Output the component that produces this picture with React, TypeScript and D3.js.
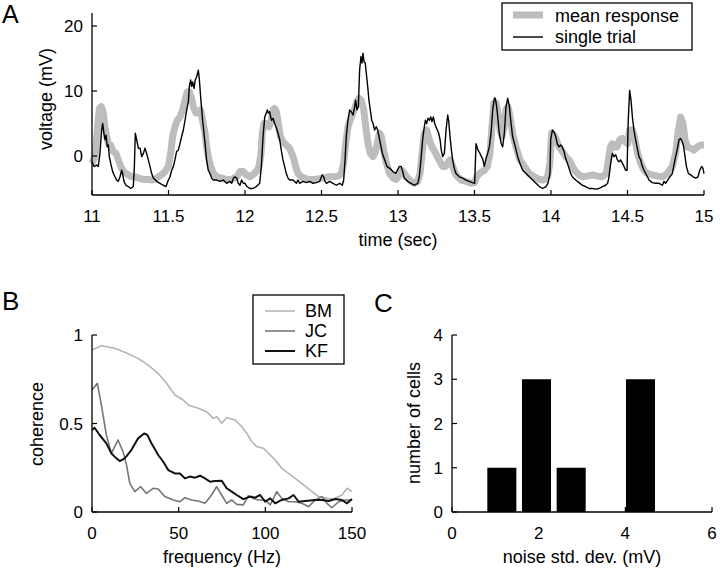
import React from "react";
import * as d3 from "d3";

// ---------- Panel A data: time (s), voltage (mV) ----------
const singleTrial: [number, number][] = [
  [11.0, -0.9], [11.013, -1.6], [11.031, -1.4], [11.041, -1.6], [11.052, 0.4], [11.063, 4.0], [11.07, 5.0], [11.078, 3.5],
  [11.085, 2.5], [11.092, 3.2], [11.1, 1.4], [11.107, 1.7], [11.113, -0.1], [11.122, -1.1], [11.135, -2.4], [11.15, -3.2],
  [11.161, -3.7], [11.172, -3.9], [11.183, -3.2], [11.194, -2.2], [11.2, -2.7], [11.209, -3.9], [11.222, -4.5], [11.237, -4.7],
  [11.253, -5.0], [11.27, -4.7], [11.277, -1.6], [11.283, 3.5], [11.292, 2.5], [11.303, 1.2], [11.314, 1.2], [11.325, -0.1],
  [11.336, 0.4], [11.346, 1.2], [11.357, 0.4], [11.368, -0.6], [11.379, -1.6], [11.39, -2.7], [11.401, -3.4], [11.423, -3.9],
  [11.444, -4.2], [11.466, -4.5], [11.484, -4.7], [11.499, -3.7], [11.51, -3.2], [11.521, -2.2], [11.532, -1.6], [11.542, -0.6],
  [11.553, 0.7], [11.564, 0.9], [11.575, 1.9], [11.586, 3.0], [11.597, 4.0], [11.608, 5.5], [11.619, 7.1], [11.63, 8.4],
  [11.636, 10.7], [11.645, 11.7], [11.651, 10.7], [11.658, 11.4], [11.667, 10.4], [11.675, 11.7], [11.684, 12.2], [11.695, 13.2],
  [11.702, 11.7], [11.71, 9.1], [11.723, 5.5], [11.739, 1.9], [11.749, -0.6], [11.76, -2.2], [11.771, -2.7], [11.782, -3.4],
  [11.793, -3.7], [11.815, -3.7], [11.837, -3.9], [11.858, -3.7], [11.88, -4.2], [11.902, -3.9], [11.913, -4.2], [11.924, -3.4],
  [11.935, -3.2], [11.946, -3.4], [11.956, -4.2], [11.967, -4.5], [11.978, -3.7], [11.989, -4.2],
  [12.0, -4.2], [12.013, -4.7], [12.031, -5.0], [12.052, -5.0], [12.074, -4.7], [12.096, -4.2], [12.107, -1.6], [12.118, 3.0],
  [12.129, 6.0], [12.139, 6.6], [12.146, 7.1], [12.153, 6.6], [12.161, 6.8], [12.168, 6.0], [12.174, 5.5], [12.183, 5.8],
  [12.194, 5.0], [12.205, 4.3], [12.216, 3.5], [12.227, 2.5], [12.237, 0.9], [12.248, -0.6], [12.259, -1.6], [12.27, -2.7],
  [12.281, -3.4], [12.292, -3.7], [12.314, -3.7], [12.336, -4.2], [12.346, -3.7], [12.357, -4.2], [12.379, -3.9], [12.401, -4.1],
  [12.423, -3.9], [12.444, -4.2], [12.466, -4.1], [12.488, -3.9], [12.505, -2.9], [12.514, -3.2], [12.523, -3.9], [12.532, -4.2],
  [12.553, -3.9], [12.575, -4.2], [12.597, -4.5], [12.619, -4.2], [12.636, -4.5], [12.645, -3.7], [12.654, -0.6], [12.662, 3.0],
  [12.673, 5.5], [12.684, 7.1], [12.695, 6.8], [12.706, 6.3], [12.717, 7.6], [12.723, 8.6], [12.732, 7.1], [12.741, 7.6],
  [12.749, 13.2], [12.758, 15.3], [12.765, 14.3], [12.771, 15.8], [12.778, 14.5], [12.786, 14.3], [12.793, 12.7], [12.802, 10.7],
  [12.81, 8.6], [12.819, 7.1], [12.828, 5.5], [12.837, 5.0], [12.847, 4.0], [12.858, 4.5], [12.867, 4.0], [12.876, 3.0],
  [12.885, 1.9], [12.898, 0.4], [12.913, -0.6], [12.928, -1.6], [12.946, -1.9], [12.967, -2.4], [12.985, -2.7],
  [13.009, -1.6], [13.02, -1.6], [13.031, -2.4], [13.041, -3.4], [13.063, -3.9], [13.085, -4.2], [13.107, -4.5], [13.129, -4.2],
  [13.139, -3.2], [13.15, -0.6], [13.161, 2.5], [13.172, 4.5], [13.179, 5.5], [13.187, 5.0], [13.196, 5.8], [13.205, 5.5],
  [13.214, 6.0], [13.222, 5.3], [13.231, 6.0], [13.24, 5.0], [13.248, 4.5], [13.257, 4.0], [13.266, 3.5], [13.275, 2.5],
  [13.283, 0.9], [13.292, -0.1], [13.303, 0.4], [13.314, 4.0], [13.325, 6.3], [13.331, 5.5], [13.34, 3.0], [13.349, 0.9],
  [13.357, -0.6], [13.368, -1.9], [13.379, -2.7], [13.401, -3.2], [13.423, -3.4], [13.444, -3.7], [13.466, -3.9], [13.488, -4.1],
  [13.501, -4.2], [13.51, 1.9], [13.519, 1.2], [13.527, 0.7], [13.536, 0.4], [13.545, -0.1], [13.553, -0.4], [13.564, -1.6],
  [13.575, -0.4], [13.586, 0.4], [13.597, 1.4], [13.608, 3.5], [13.619, 7.1], [13.63, 8.9], [13.636, 8.9], [13.645, 7.6],
  [13.654, 5.5], [13.662, 3.5], [13.675, 1.9], [13.684, 1.4], [13.695, 3.5], [13.706, 7.6], [13.717, 8.9], [13.728, 7.6],
  [13.739, 5.0], [13.749, 3.0], [13.767, 1.4], [13.782, -0.1], [13.797, -1.1], [13.815, -2.2], [13.837, -2.7], [13.858, -3.2],
  [13.88, -3.7], [13.902, -4.2], [13.924, -4.7], [13.946, -5.0], [13.967, -4.7], [13.98, -4.2], [13.993, -2.7],
  [13.998, 2.5], [14.009, 4.0], [14.02, 3.7], [14.031, 3.0], [14.041, 1.9], [14.052, 1.4], [14.063, 1.7], [14.074, 1.4],
  [14.085, 0.7], [14.096, -0.4], [14.107, -1.1], [14.118, -1.9], [14.129, -2.7], [14.139, -3.2], [14.161, -3.7], [14.183, -4.1],
  [14.205, -4.5], [14.227, -4.7], [14.248, -5.0], [14.27, -5.0], [14.292, -5.1], [14.314, -5.0], [14.336, -4.7], [14.357, -4.5],
  [14.37, -4.2], [14.379, -3.2], [14.39, -1.1], [14.401, 0.4], [14.412, -0.1], [14.423, 0.2], [14.434, -0.6], [14.444, -0.9],
  [14.455, -0.6], [14.466, -1.1], [14.477, -1.6], [14.488, -2.2], [14.497, -2.2], [14.505, 5.5], [14.514, 10.1], [14.523, 8.6],
  [14.532, 6.0], [14.542, 4.0], [14.553, 2.5], [14.564, 1.2], [14.575, -0.1], [14.586, -0.6], [14.597, -1.6], [14.608, -2.2],
  [14.619, -2.7], [14.63, -3.2], [14.641, -3.7], [14.662, -4.1], [14.684, -4.2], [14.706, -4.2], [14.728, -4.5], [14.739, -3.9],
  [14.749, -4.2], [14.771, -3.4], [14.793, -2.7], [14.81, -0.6], [14.824, 0.9], [14.837, 2.5], [14.847, 2.7], [14.858, 2.2],
  [14.867, 1.4], [14.876, -0.1], [14.885, -1.6], [14.898, -2.7], [14.913, -2.9], [14.928, -3.2], [14.946, -3.4], [14.961, -3.2],
  [14.972, -2.2], [14.985, -1.6], [14.993, -1.9], [15.0, -2.7],
];

const meanResponse: [number, number][] = [
  [11.0, -1.1], [11.02, -0.1], [11.035, 4.0], [11.048, 7.3], [11.061, 7.6], [11.074, 6.6], [11.085, 4.5], [11.096, 3.0],
  [11.107, 1.9], [11.122, 1.7], [11.139, 0.7], [11.157, 0.4], [11.172, -0.6], [11.187, -1.6], [11.205, -2.4], [11.222, -2.7],
  [11.237, -2.9], [11.259, -3.2], [11.281, -3.2], [11.303, -3.4], [11.336, -3.6], [11.368, -3.6], [11.39, -3.7], [11.412, -3.6],
  [11.434, -3.2], [11.455, -2.9], [11.477, -2.4], [11.499, -1.6], [11.514, 0.4], [11.527, 3.0], [11.542, 4.5], [11.558, 5.5],
  [11.575, 6.0], [11.593, 7.1], [11.608, 8.6], [11.623, 9.9], [11.636, 9.9], [11.651, 8.9], [11.662, 7.6], [11.68, 6.6],
  [11.695, 6.6], [11.71, 7.1], [11.723, 5.5], [11.739, 3.5], [11.749, 1.4], [11.76, -0.1], [11.776, -1.6], [11.793, -2.7],
  [11.815, -3.2], [11.847, -3.4], [11.88, -3.6], [11.913, -3.6], [11.946, -3.2], [11.967, -2.4], [11.989, -2.4],
  [12.009, -2.9], [12.031, -3.2], [12.052, -2.9], [12.074, -2.4], [12.092, -1.6], [12.105, 0.4], [12.113, 3.5], [12.124, 5.0],
  [12.139, 5.0], [12.157, 4.5], [12.172, 5.5], [12.183, 7.1], [12.194, 7.3], [12.205, 6.8], [12.218, 5.0], [12.231, 3.0],
  [12.248, 2.2], [12.27, 1.7], [12.292, 1.2], [12.314, -0.1], [12.331, -1.6], [12.346, -2.7], [12.368, -3.2], [12.39, -3.4],
  [12.412, -3.6], [12.455, -3.6], [12.51, -3.4], [12.542, -3.2], [12.575, -3.2], [12.608, -3.1], [12.63, -2.7], [12.645, -1.1],
  [12.658, 1.9], [12.673, 4.5], [12.695, 6.0], [12.717, 7.3], [12.732, 8.4], [12.745, 8.9], [12.76, 8.6], [12.776, 7.1],
  [12.789, 4.5], [12.804, 1.9], [12.819, 0.4], [12.837, -0.1], [12.854, 0.7], [12.869, 2.5], [12.88, 3.5], [12.891, 3.0],
  [12.906, 0.9], [12.924, -1.1], [12.946, -2.7], [12.967, -3.4], [12.989, -3.6],
  [13.009, -2.9], [13.026, -2.2], [13.041, -2.7], [13.063, -3.4], [13.085, -3.9], [13.107, -4.2], [13.129, -3.9], [13.144, -2.7],
  [13.157, 0.4], [13.172, 3.5], [13.187, 4.0], [13.205, 2.5], [13.222, 1.4], [13.24, 0.7], [13.257, -0.1], [13.275, -0.9],
  [13.292, -1.6], [13.309, -1.6], [13.325, -1.1], [13.34, -0.6], [13.357, -1.6], [13.379, -2.9], [13.412, -3.7], [13.444, -3.9],
  [13.477, -4.2], [13.501, -4.1], [13.514, -3.2], [13.532, -2.7], [13.549, -2.4], [13.566, -2.2], [13.584, -1.6], [13.601, 0.4],
  [13.614, 4.5], [13.627, 8.1], [13.641, 8.1], [13.654, 6.6], [13.667, 4.0], [13.68, 3.0], [13.693, 4.5], [13.706, 7.1],
  [13.719, 7.6], [13.732, 6.0], [13.749, 3.5], [13.771, 1.4], [13.797, -0.6], [13.826, -1.6], [13.858, -2.7], [13.891, -3.2],
  [13.924, -3.6], [13.946, -3.7], [13.963, -3.6], [13.978, -3.2], [13.993, -1.1],
  [14.004, 3.5], [14.02, 3.2], [14.035, 2.5], [14.052, 1.4], [14.074, 0.7], [14.096, -0.1], [14.118, -0.6], [14.139, -1.6],
  [14.161, -2.4], [14.183, -2.9], [14.205, -3.2], [14.237, -3.1], [14.27, -2.9], [14.303, -3.1], [14.336, -3.2], [14.362, -2.7],
  [14.375, -0.6], [14.388, 1.4], [14.401, 1.9], [14.414, 1.4], [14.431, 1.4], [14.449, 2.5], [14.466, 2.7], [14.484, 2.2],
  [14.501, 1.9], [14.514, 4.0], [14.532, 4.0], [14.549, 2.5], [14.566, 0.4], [14.586, -1.1], [14.608, -2.2], [14.63, -2.7],
  [14.662, -2.9], [14.695, -3.1], [14.728, -3.2], [14.76, -2.7], [14.793, -1.6], [14.815, 0.4], [14.832, 4.0], [14.847, 6.0],
  [14.863, 5.0], [14.876, 2.5], [14.891, 1.4], [14.913, 1.2], [14.935, 0.9], [14.956, 1.4], [14.978, 1.7], [15.0, 1.7],
];

const timeTicks = [11, 11.5, 12, 12.5, 13, 13.5, 14, 14.5, 15];
const voltageTicks = [0, 10, 20];

// ---------- Panel B data: frequency (Hz), coherence ----------
const cohBM: [number, number][] = [
  [0, 0.915], [5.4, 0.94], [8.3, 0.934], [13.1, 0.925], [18.9, 0.902], [26.6, 0.868], [32.4, 0.83], [38.2, 0.783],
  [43, 0.727], [47.8, 0.661], [52.6, 0.633], [55.5, 0.605], [61.3, 0.586], [66.1, 0.567], [70, 0.529], [71.9, 0.539],
  [74.8, 0.501], [77.7, 0.533], [82.5, 0.52], [86.4, 0.482], [89.3, 0.444], [92.2, 0.397], [95.1, 0.369], [98.9, 0.36],
  [102.8, 0.322], [105.7, 0.294], [109.5, 0.247], [113.4, 0.218], [117.2, 0.19], [122, 0.153], [126.9, 0.115], [130.7, 0.087],
  [135.5, 0.077], [139.4, 0.073], [144.2, 0.096], [147.1, 0.134], [150, 0.115],
];
const cohJC: [number, number][] = [
  [0, 0.689], [3.1, 0.727], [5.4, 0.605], [8.3, 0.435], [11.2, 0.331], [15, 0.407], [17.9, 0.341], [19.9, 0.266],
  [21.8, 0.162], [24.7, 0.115], [28.1, 0.143], [31.4, 0.105], [35.3, 0.134], [38.2, 0.13], [42, 0.087], [46.8, 0.068],
  [50.7, 0.058], [53.6, 0.081], [57.5, 0.068], [61.3, 0.062], [65.2, 0.049], [69, 0.096], [71.9, 0.143], [74.8, 0.096],
  [77.7, 0.049], [80.6, 0.068], [83.5, 0.043], [87.3, 0.04], [90.2, 0.092], [93.1, 0.077], [96, 0.068], [99.9, 0.068],
  [102.8, 0.04], [106.6, 0.115], [109.5, 0.077], [113.4, 0.058], [117.2, 0.058], [121.1, 0.049], [124.9, 0.03], [128.8, 0.068],
  [132.6, 0.087], [135.5, 0.049], [138.4, 0.024], [142.3, 0.058], [146.1, 0.068], [150, 0.068],
];
const cohKF: [number, number][] = [
  [0, 0.463], [1.5, 0.476], [4.4, 0.435], [8.3, 0.388], [11.2, 0.331], [14.1, 0.303], [16, 0.288], [18.9, 0.303],
  [22.7, 0.35], [26.6, 0.416], [30.1, 0.444], [32, 0.435], [34.3, 0.388], [38.2, 0.322], [41.1, 0.284], [44, 0.237],
  [47.8, 0.218], [50.7, 0.218], [53.6, 0.19], [56.5, 0.2], [59.4, 0.194], [62.3, 0.205], [65.2, 0.19], [68.1, 0.171],
  [71, 0.175], [74.8, 0.177], [77.7, 0.134], [80.6, 0.115], [83.5, 0.096], [87.3, 0.073], [91.2, 0.087], [94.1, 0.081],
  [97, 0.096], [99.9, 0.058], [102.8, 0.077], [105.7, 0.049], [109.5, 0.068], [113.4, 0.077], [116.3, 0.096], [119.2, 0.058],
  [123, 0.062], [128.8, 0.068], [132.6, 0.068], [136.5, 0.062], [140.4, 0.073], [144.2, 0.068], [147.1, 0.049], [150, 0.073],
];
const cellNames = ["BM", "JC", "KF"];
const freqTicks = [0, 50, 100, 150];
const cohTicks = [0, 0.5, 1];

// ---------- Panel C data: noise std. dev. histogram ----------
const noiseBinCenters = [1.15, 1.95, 2.75, 3.55, 4.35];
const cellCounts = [1, 3, 1, 0, 3];
const noiseTicks = [0, 2, 4, 6];
const countTicks = [0, 1, 2, 3, 4];

const FONT = "'Liberation Sans', Arial, Helvetica, sans-serif";
const TICK_FS = 17;
const LABEL_FS = 18;
const TL = 5;

export default function App() {
  // Panel A scales
  const xA = d3.scaleLinear().domain([11, 15]).range([92, 704]);
  const yA = d3.scaleLinear().domain([-6, 22]).range([195, 13]);
  const lineA = d3.line<[number, number]>().x((d) => xA(d[0])).y((d) => yA(d[1]));

  // Panel B scales
  const xB = d3.scaleLinear().domain([0, 150]).range([92, 352]);
  const yB = d3.scaleLinear().domain([0, 1]).range([512, 335]);
  const lineB = d3.line<[number, number]>().x((d) => xB(d[0])).y((d) => yB(d[1]));

  // Panel C scales
  const xC = d3.scaleLinear().domain([0, 6]).range([452, 712]);
  const yC = d3.scaleLinear().domain([0, 4]).range([512, 335]);
  const barW = 0.67;

  const cohSeries = [
    { name: cellNames[0], data: cohBM, color: "#b4b4b4", w: 1.6 },
    { name: cellNames[1], data: cohJC, color: "#767676", w: 1.6 },
    { name: cellNames[2], data: cohKF, color: "#111111", w: 2 },
  ];

  const xAxis = (scale: d3.ScaleLinear<number, number>, y0: number, ticks: number[]) => (
    <g>
      <line x1={scale.range()[0]} x2={scale.range()[1]} y1={y0} y2={y0} stroke="#000" strokeWidth={1.3} />
      {ticks.map((t) => (
        <g key={t}>
          <line x1={scale(t)} x2={scale(t)} y1={y0} y2={y0 - TL} stroke="#000" strokeWidth={1.2} />
          <text x={scale(t)} y={y0 + 27} textAnchor="middle" fontSize={TICK_FS}>{String(t)}</text>
        </g>
      ))}
    </g>
  );
  const yAxis = (scale: d3.ScaleLinear<number, number>, x0: number, ticks: number[]) => (
    <g>
      <line x1={x0} x2={x0} y1={scale.range()[0]} y2={scale.range()[1]} stroke="#000" strokeWidth={1.3} />
      {ticks.map((t) => (
        <g key={t}>
          <line x1={x0} x2={x0 + TL} y1={scale(t)} y2={scale(t)} stroke="#000" strokeWidth={1.2} />
          <text x={x0 - 9} y={scale(t)} dy="0.36em" textAnchor="end" fontSize={TICK_FS}>{t}</text>
        </g>
      ))}
    </g>
  );

  return (
    <svg width={720} height={571} style={{ position: "absolute", left: 0, top: 0, background: "#fff" }} fontFamily={FONT}>
      <rect width={720} height={571} fill="#fff" />
      {/* Panel A */}
      <text x={2} y={23} fontSize={25}>A</text>
      <path d={lineA(meanResponse) || ""} fill="none" stroke="#bdbdbd" strokeWidth={7} strokeLinejoin="round" strokeLinecap="butt" />
      <path d={lineA(singleTrial) || ""} fill="none" stroke="#000" strokeWidth={1.4} strokeLinejoin="round" />
      {xAxis(xA, 195, timeTicks)}
      {yAxis(yA, 92, voltageTicks)}
      <text x={398} y={246} textAnchor="middle" fontSize={LABEL_FS}>time (sec)</text>
      <text transform="translate(52,99) rotate(-90)" textAnchor="middle" fontSize={LABEL_FS}>voltage (mV)</text>
      <g>
        <rect x={502} y={3} width={190} height={47} fill="#fff" stroke="#000" strokeWidth={1.3} />
        <line x1={513} x2={543} y1={15} y2={15} stroke="#bdbdbd" strokeWidth={7} />
        <text x={555} y={21.5} fontSize={LABEL_FS}>mean response</text>
        <line x1={513} x2={543} y1={37} y2={37} stroke="#000" strokeWidth={1.4} />
        <text x={555} y={43} fontSize={LABEL_FS}>single trial</text>
      </g>

      {/* Panel B */}
      <text x={2} y={310} fontSize={26}>B</text>
      {cohSeries.map((s) => (
        <path key={s.name} d={lineB(s.data) || ""} fill="none" stroke={s.color} strokeWidth={s.w} strokeLinejoin="round" />
      ))}
      {xAxis(xB, 512, freqTicks)}
      {yAxis(yB, 92, cohTicks)}
      <text x={222} y={563} textAnchor="middle" fontSize={LABEL_FS}>frequency (Hz)</text>
      <text transform="translate(43,424) rotate(-90)" textAnchor="middle" fontSize={LABEL_FS}>coherence</text>
      <g>
        <rect x={253} y={295} width={91} height={69} fill="#fff" stroke="#000" strokeWidth={1.3} />
        {cohSeries.map((s, i) => (
          <g key={s.name}>
            <line x1={265} x2={295} y1={311 + i * 20} y2={311 + i * 20} stroke={s.color} strokeWidth={s.w} />
            <text x={305} y={317 + i * 20} fontSize={LABEL_FS}>{s.name}</text>
          </g>
        ))}
      </g>

      {/* Panel C */}
      <text x={374} y={312} fontSize={26}>C</text>
      {noiseBinCenters.map((c, i) => (
        cellCounts[i] > 0 ? (
          <rect key={c} x={xC(c - barW / 2)} y={yC(cellCounts[i])} width={xC(c + barW / 2) - xC(c - barW / 2)}
            height={yC(0) - yC(cellCounts[i])} fill="#000" />
        ) : null
      ))}
      {xAxis(xC, 512, noiseTicks)}
      {yAxis(yC, 452, countTicks)}
      <text x={582} y={563} textAnchor="middle" fontSize={LABEL_FS}>noise std. dev. (mV)</text>
      <text transform="translate(420,423) rotate(-90)" textAnchor="middle" fontSize={LABEL_FS}>number of cells</text>
    </svg>
  );
}
